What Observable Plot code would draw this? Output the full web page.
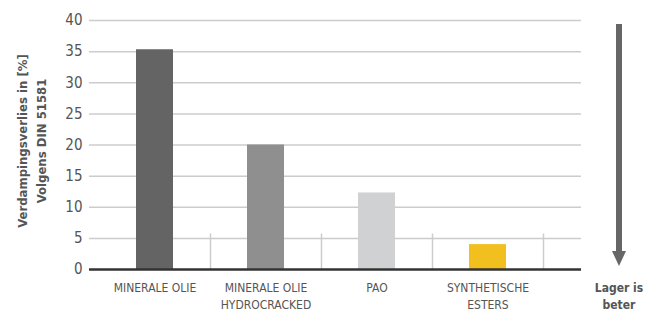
<!DOCTYPE html>
<html>
<head>
<meta charset="utf-8">
<script src="https://cdn.jsdelivr.net/npm/d3@7"></script>
<script src="https://cdn.jsdelivr.net/npm/@observablehq/plot@0.6"></script>
<style>
  html, body { margin: 0; padding: 0; background: #fff; }
  #chart svg { display: block; }
</style>
</head>
<body>
<div id="chart"></div>
<script>
const categories = ["MINERALE OLIE", "MINERALE OLIE\nHYDROCRACKED", "PAO", "SYNTHETISCHE\nESTERS"];
const values = [35.3, 20, 12.3, 4];
const colors = ["#646464", "#8f8f8f", "#d0d1d3", "#f2c01e"];
const yTicks = [0, 5, 10, 15, 20, 25, 30, 35, 40];
const yTitle = "Verdampingsverlies in [%]\nVolgens DIN 51581";
const arrowText = "Lager is\nbeter";
const separatorHeight = 5.7;

const data = categories.map((c, i) => ({cat: c, value: values[i], color: colors[i]}));
const font = "'Liberation Sans Narrow', 'DejaVu Sans Condensed', 'Liberation Sans', sans-serif";

const W = 651, H = 314;
const plot = Plot.plot({
  width: W,
  height: H,
  marginLeft: 89,
  marginRight: 70,
  marginTop: 20,
  marginBottom: 45,
  style: {fontFamily: font, color: "#555", background: "#fff"},
  x: {domain: categories, range: [99, 543], paddingInner: 0, paddingOuter: 0},
  y: {domain: [0, 40]},
  marks: [
    Plot.ruleY(yTicks.filter(d => d > 0), {stroke: "#cccccc", strokeWidth: 1.5}),
    Plot.ruleX(categories, {x: d => d, y1: 0, y2: separatorHeight, dx: 55.5, stroke: "#cccccc", strokeWidth: 1.5}),
    Plot.barY(data, {x: "cat", y: "value", fill: "color", insetLeft: 37, insetRight: 37}),
    Plot.ruleY([0], {stroke: "#333", strokeWidth: 2.5}),
    Plot.ruleX([0], {frameAnchor: "left", y1: 0, y2: 40, stroke: "#222", strokeWidth: 1.5, dx: -0.5}),
    Plot.axisY({ticks: yTicks, tickSize: 0, tickPadding: 7, fontSize: 15, fill: "#555", label: null}),
    Plot.axisX({tickSize: 0, tickPadding: 11, fontSize: 12, fill: "#555", label: null, lineHeight: 1.4}),
    Plot.text([yTitle], {frameAnchor: "left", rotate: -90, dx: -59, dy: -4, fontSize: 13, fontWeight: "bold", fill: "#555", lineHeight: 1.45, textAnchor: "middle", lineAnchor: "middle"})
  ]
});

document.getElementById("chart").appendChild(plot);

// annotation arrow "lower is better"
const svg = d3.select(plot);
const ax = 619;
const g = svg.append("g");
g.append("line").attr("x1", ax).attr("x2", ax).attr("y1", 24).attr("y2", 252)
  .attr("stroke", "#666").attr("stroke-width", 6);
g.append("path").attr("d", `M${ax-7},251 L${ax+7},251 L${ax},266 Z`).attr("fill", "#666");
g.append("text").attr("x", ax).attr("y", 292).attr("text-anchor", "middle")
  .attr("font-family", "'DejaVu Sans Condensed', sans-serif").attr("font-size", 12).attr("font-weight", "bold").attr("fill", "#555")
  .selectAll("tspan").data(arrowText.split("\n")).join("tspan")
  .attr("x", ax).attr("dy", (d, i) => i ? 17 : 0).text(d => d);
</script>
</body>
</html>
